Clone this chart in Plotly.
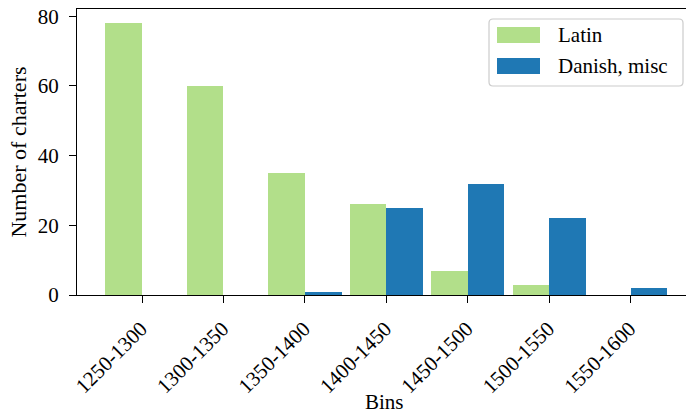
import plotly.graph_objects as go

# Charter counts per 50-year bin, split by language
bins = ["1250-1300", "1300-1350", "1350-1400", "1400-1450",
        "1450-1500", "1500-1550", "1550-1600"]
latin_counts = [78, 60, 35, 26, 7, 3, 0]
danish_counts = [0, 0, 1, 25, 32, 22, 2]
series_names = ["Latin", "Danish, misc"]
series_colors = ["#b2df8a", "#1f78b4"]

FONT = "Liberation Serif"
BAR_W = 0.45
positions = list(range(len(bins)))

fig = go.Figure()
# Latin bars sit left of each tick, Danish bars right of it
fig.add_trace(go.Bar(x=positions, y=latin_counts, width=BAR_W, offset=-BAR_W,
                     marker=dict(color=series_colors[0], line=dict(width=0)),
                     name=series_names[0], showlegend=False))
fig.add_trace(go.Bar(x=positions, y=danish_counts, width=BAR_W, offset=0,
                     marker=dict(color=series_colors[1], line=dict(width=0)),
                     name=series_names[1], showlegend=False))

W, H = 686, 415
ml, mr, mt, mb = 77, 0, 9, 120

fig.update_layout(
    width=W, height=H,
    margin=dict(l=ml, r=mr, t=mt, b=mb, pad=0),
    paper_bgcolor="white", plot_bgcolor="white",
    font=dict(family=FONT, size=21, color="black"),
    bargap=0,
    xaxis=dict(
        range=[-0.799, 6.68],
        tickmode="array", tickvals=positions, ticktext=bins,
        tickangle=-45,
        ticks="outside", ticklen=7, tickwidth=1.3, tickcolor="black",
        showline=True, linecolor="black", linewidth=1.3, mirror=True,
        showgrid=False, zeroline=False,
        ticklabelstandoff=5, ticklabelshift=-1,
        tickfont=dict(family=FONT, size=21),
    ),
    yaxis=dict(
        range=[0, 82.1],
        tickvals=[0, 20, 40, 60, 80],
        ticks="outside", ticklen=7, tickwidth=1.3, tickcolor="black",
        showline=True, linecolor="black", linewidth=1.3,
        showgrid=False, zeroline=False,
        ticklabelstandoff=6,
        tickfont=dict(family=FONT, size=21),
        title=dict(text="Number of charters", standoff=4,
                   font=dict(family=FONT, size=22)),
    ),
)

# x-axis label
pw = W - ml - mr
ph = H - mt - mb
def px_x(x):
    return (x - ml) / pw
def px_y(y):
    return 1 - (y - mt) / ph

fig.add_annotation(text="Bins", xref="paper", yref="paper",
                   x=px_x(384), y=px_y(402), showarrow=False,
                   xanchor="center", yanchor="middle",
                   font=dict(family=FONT, size=21))

# legend frame with rounded corners
x0, x1, y0, y1, r = 489, 683, 19, 86, 4
path = (f"M {px_x(x0 + r)},{px_y(y0)} L {px_x(x1 - r)},{px_y(y0)} "
        f"Q {px_x(x1)},{px_y(y0)} {px_x(x1)},{px_y(y0 + r)} "
        f"L {px_x(x1)},{px_y(y1 - r)} "
        f"Q {px_x(x1)},{px_y(y1)} {px_x(x1 - r)},{px_y(y1)} "
        f"L {px_x(x0 + r)},{px_y(y1)} "
        f"Q {px_x(x0)},{px_y(y1)} {px_x(x0)},{px_y(y1 - r)} "
        f"L {px_x(x0)},{px_y(y0 + r)} "
        f"Q {px_x(x0)},{px_y(y0)} {px_x(x0 + r)},{px_y(y0)} Z")
fig.add_shape(type="path", path=path, xref="paper", yref="paper",
              line=dict(color="#cccccc", width=1.2),
              fillcolor="rgba(255,255,255,0.8)", layer="above")

rows = [(27, 43, 35), (58, 74, 66)]
for (sy0, sy1, ty), name, color in zip(rows, series_names, series_colors):
    fig.add_shape(type="rect", xref="paper", yref="paper",
                  x0=px_x(497), x1=px_x(540), y0=px_y(sy1), y1=px_y(sy0),
                  fillcolor=color, line=dict(width=0), layer="above")
    fig.add_annotation(text=name, xref="paper", yref="paper",
                       x=px_x(556), y=px_y(ty), showarrow=False,
                       xanchor="left", yanchor="middle",
                       font=dict(family=FONT, size=21))

fig.write_html("out.html")
